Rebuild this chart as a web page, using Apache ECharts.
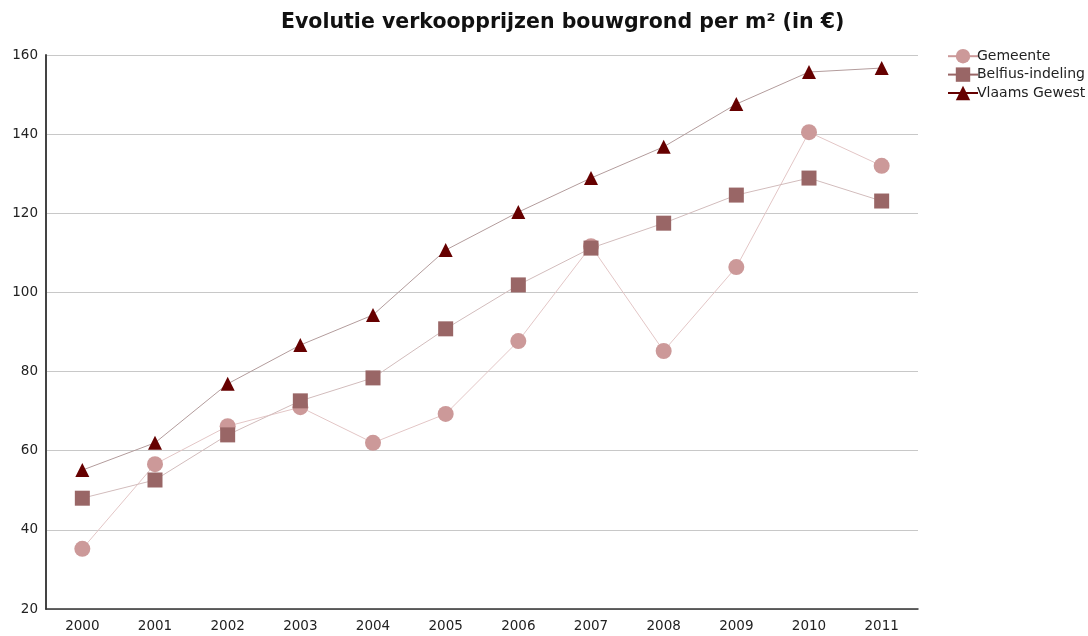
<!DOCTYPE html>
<html>
<head>
<meta charset="utf-8">
<script src="https://cdn.jsdelivr.net/npm/echarts@6/dist/echarts.min.js"></script>
<style>
    html, body { margin: 0; padding: 0; background: #fff; }
    #chart { width: 1088px; height: 636px; }
</style>
</head>
<body>
<div id="chart"></div>
<script>
'use strict';

var years = ['2000', '2001', '2002', '2003', '2004', '2005', '2006', '2007', '2008', '2009', '2010', '2011'];
var gemeente = [35.2, 56.6, 66.2, 71, 62, 69.3, 87.7, 111.7, 85.2, 106.4, 140.5, 132];
var belfius = [48, 52.6, 64, 72.6, 78.4, 90.8, 101.9, 111.2, 117.5, 124.6, 128.9, 123.1];
var vlaams = [55.1, 62, 76.9, 86.7, 94.3, 110.7, 120.3, 128.9, 136.8, 147.6, 155.7, 156.7];

var myChart = echarts.init(document.getElementById('chart'));

var labelFont = 'DejaVu Sans';

var option = {
    animation: false,
    title: {
        text: 'Evolutie verkoopprijzen bouwgrond per m² (in €)',
        left: 276,
        top: 7,
        textStyle: {
            fontFamily: labelFont,
            fontSize: 20.5,
            fontWeight: 'bold',
            color: '#111'
        }
    },
    legend: {
        orient: 'vertical',
        left: 942,
        top: 44,
        itemWidth: 30,
        itemHeight: 18,
        itemGap: 4,
        textStyle: { fontFamily: labelFont, fontSize: 14, color: '#222', padding: [0, 0, 0, -6] },
        data: [
            { name: 'Gemeente', lineStyle: { color: '#cc9999', width: 2 } },
            { name: 'Belfius-indeling', lineStyle: { color: '#996666', width: 2 } },
            { name: 'Vlaams Gewest', lineStyle: { color: '#660000', width: 2 } }
        ]
    },
    grid: {
        left: 46,
        right: 170,
        top: 55,
        bottom: 27
    },
    xAxis: {
        type: 'category',
        data: years,
        boundaryGap: true,
        axisLine: { lineStyle: { color: '#333', width: 1.5 } },
        axisTick: { show: false },
        axisLabel: { fontFamily: labelFont, fontSize: 13.5, color: '#222', margin: 10 }
    },
    yAxis: {
        type: 'value',
        min: 20,
        max: 160,
        interval: 20,
        axisLine: { show: true, lineStyle: { color: '#444', width: 2 } },
        axisTick: { show: false },
        axisLabel: { fontFamily: labelFont, fontSize: 13.5, color: '#222', margin: 8 },
        splitLine: { lineStyle: { color: '#c8c8c8', width: 1 } }
    },
    series: [
        {
            name: 'Gemeente',
            type: 'line',
            data: gemeente,
            symbol: 'circle',
            symbolSize: 16,
            itemStyle: { color: '#cc9999' },
            lineStyle: { color: '#e3c6c6', width: 1 },
            z: 2
        },
        {
            name: 'Belfius-indeling',
            type: 'line',
            data: belfius,
            symbol: 'rect',
            symbolSize: 15,
            itemStyle: { color: '#996666' },
            lineStyle: { color: '#d2bcbc', width: 1 },
            z: 3
        },
        {
            name: 'Vlaams Gewest',
            type: 'line',
            data: vlaams,
            symbol: 'triangle',
            symbolSize: 14,
            itemStyle: { color: '#660000' },
            lineStyle: { color: '#b39c9c', width: 1 },
            z: 4
        }
    ]
};

myChart.setOption(option);
</script>
</body>
</html>
